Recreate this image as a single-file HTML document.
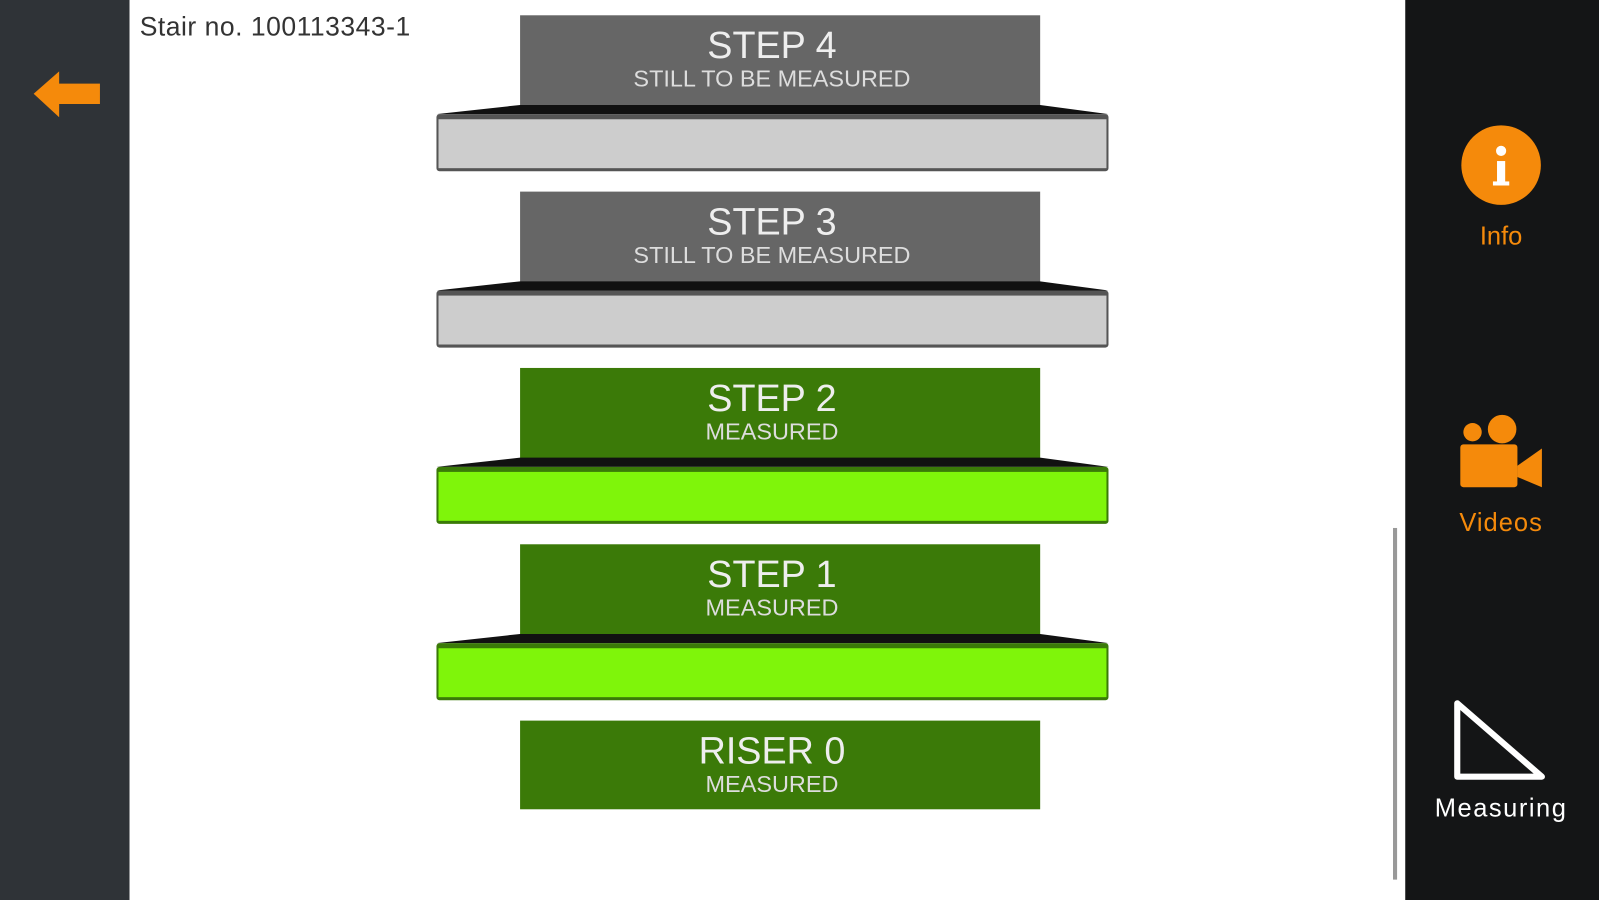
<!DOCTYPE html>
<html><head><meta charset="utf-8"><style>
html,body{margin:0;padding:0;background:#fff;width:1599px;height:900px;overflow:hidden}
svg{display:block}
text{font-family:"Liberation Sans",sans-serif}
</style></head><body>
<svg width="1599" height="900" viewBox="0 0 1568 883" preserveAspectRatio="none" xmlns="http://www.w3.org/2000/svg">
<rect x="0" y="0" width="1568" height="883" fill="#fff"/>
<rect x="0" y="0" width="127" height="883" fill="#2f3337"/>
<polygon points="33,92 58,70 58,82 98,82 98,102 58,102 58,115" fill="#f58a0b"/>
<text x="137" y="35" font-size="26" fill="#333" letter-spacing="0.5">Stair no. 100113343-1</text>

<g>
<rect x="510" y="15" width="510" height="90" fill="#666"/>
<polygon points="510,103 1020,103 1087,112 428,112" fill="#111"/>
<rect x="428" y="112" width="659" height="56" rx="3" fill="#555"/>
<rect x="430" y="117" width="655" height="48" fill="#cdcdcd"/>
<text x="757" y="57" font-size="37" fill="#eee" text-anchor="middle">STEP 4</text>
<text x="757" y="85" font-size="23" fill="#ddd" text-anchor="middle">STILL TO BE MEASURED</text>
</g>
<g transform="translate(0,173)">
<rect x="510" y="15" width="510" height="90" fill="#666"/>
<polygon points="510,103 1020,103 1087,112 428,112" fill="#111"/>
<rect x="428" y="112" width="659" height="56" rx="3" fill="#555"/>
<rect x="430" y="117" width="655" height="48" fill="#cdcdcd"/>
<text x="757" y="57" font-size="37" fill="#eee" text-anchor="middle">STEP 3</text>
<text x="757" y="85" font-size="23" fill="#ddd" text-anchor="middle">STILL TO BE MEASURED</text>
</g>
<g transform="translate(0,346)">
<rect x="510" y="15" width="510" height="90" fill="#3b7a08"/>
<polygon points="510,103 1020,103 1087,112 428,112" fill="#111"/>
<rect x="428" y="112" width="659" height="56" rx="3" fill="#3a7a08"/>
<rect x="430" y="117" width="655" height="48" fill="#7ff50a"/>
<text x="757" y="57" font-size="37" fill="#eee" text-anchor="middle">STEP 2</text>
<text x="757" y="85" font-size="23" fill="#ddd" text-anchor="middle">MEASURED</text>
</g>
<g transform="translate(0,519)">
<rect x="510" y="15" width="510" height="90" fill="#3b7a08"/>
<polygon points="510,103 1020,103 1087,112 428,112" fill="#111"/>
<rect x="428" y="112" width="659" height="56" rx="3" fill="#3a7a08"/>
<rect x="430" y="117" width="655" height="48" fill="#7ff50a"/>
<text x="757" y="57" font-size="37" fill="#eee" text-anchor="middle">STEP 1</text>
<text x="757" y="85" font-size="23" fill="#ddd" text-anchor="middle">MEASURED</text>
</g>
<rect x="510" y="707" width="510" height="87" fill="#3b7a08"/>
<text x="757" y="749" font-size="37" fill="#eee" text-anchor="middle">RISER 0</text>
<text x="757" y="777" font-size="23" fill="#ddd" text-anchor="middle">MEASURED</text>

<rect x="1366" y="518" width="4" height="345" fill="#999"/>
<rect x="1378" y="0" width="190" height="883" fill="#141516"/>
<circle cx="1472" cy="162" r="39" fill="#f58a0b"/>
<rect x="1468" y="158" width="8" height="22" fill="#fff"/>
<rect x="1464" y="178" width="16" height="4" fill="#fff"/>
<circle cx="1472" cy="148" r="5" fill="#fff"/>
<text x="1472" y="240" font-size="25" fill="#f58a0b" text-anchor="middle">Info</text>
<circle cx="1444" cy="424" r="9" fill="#f58a0b"/>
<circle cx="1473" cy="421" r="14" fill="#f58a0b"/>
<rect x="1432" y="436" width="56" height="42" rx="3" fill="#f58a0b"/>
<polygon points="1488,457 1512,440 1512,478 1488,468" fill="#f58a0b"/>
<text x="1472" y="521" font-size="25" fill="#f58a0b" text-anchor="middle" letter-spacing="1">Videos</text>
<polygon points="1429,690 1512,762 1429,762" fill="none" stroke="#fff" stroke-width="6" stroke-linejoin="round"/>
<text x="1472" y="801" font-size="25" fill="#fff" text-anchor="middle" letter-spacing="1.5">Measuring</text>
</svg>
</body></html>
